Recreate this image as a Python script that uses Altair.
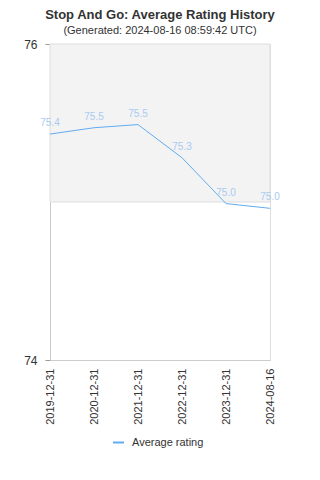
import altair as alt
import pandas as pd

dates = ["2019-12-31", "2020-12-31", "2021-12-31", "2022-12-31", "2023-12-31", "2024-08-16"]
ratings = [75.43, 75.47, 75.49, 75.28, 74.99, 74.96]
series_name = "Average rating"
band_low = [75]
band_high = [76]

df = pd.DataFrame({"date": dates, "rating": ratings, "series": [series_name] * len(dates)})
band = pd.DataFrame({"lo": band_low, "hi": band_high})

W, H = 220, 316
FONT = "Liberation Sans"
LINE = "#62acf0"
LABEL = "#a9cbf2"

x_enc = alt.X("date:O", sort=dates, scale=alt.Scale(type="point", padding=0),
              axis=alt.Axis(title=None, labelAngle=-90, ticks=False, labelPadding=8,
                            labelFont=FONT, labelFontSize=11, labelColor="#333",
                            domainColor="#ccc", grid=False))
y_scale = alt.Scale(domain=[74, 76], nice=False)

band_layer = alt.Chart(band).mark_rect(color="#f3f3f3", stroke="#dddddd", strokeWidth=1).encode(
    x=alt.value(0), x2=alt.value(W),
    y=alt.Y("lo:Q", scale=y_scale,
            axis=alt.Axis(title=None, values=[74, 75, 76], format="d", tickSize=5, tickColor="#999",
                          labelPadding=8, labelFont=FONT, labelFontSize=12, labelColor="#333",
                          domainColor="#ccc", grid=True, gridColor="#dddddd")),
    y2="hi:Q",
)

line = alt.Chart(df).mark_line(strokeWidth=1).encode(
    x=x_enc,
    y=alt.Y("rating:Q", scale=y_scale),
    color=alt.Color("series:N", scale=alt.Scale(range=[LINE]),
                    legend=alt.Legend(title=None, orient="none", legendX=62, legendY=392,
                                      symbolType="stroke", symbolStrokeWidth=2, symbolSize=120,
                                      labelOffset=7,
                                      labelFont=FONT, labelFontSize=11, labelColor="#333")),
)

labels = alt.Chart(df).mark_text(font=FONT, fontSize=10, color=LABEL, baseline="bottom", dy=-6).encode(
    x=x_enc,
    y=alt.Y("rating:Q", scale=y_scale),
    text=alt.Text("rating:Q", format=".1f"),
)

chart = alt.layer(band_layer, line, labels).properties(
    width=W, height=H,
    autosize=alt.AutoSizeParams(type="none"),
    padding={"left": 42, "top": 36, "right": 38, "bottom": 100},
    title=alt.TitleParams(text="Stop And Go: Average Rating History",
                          subtitle="(Generated: 2024-08-16 08:59:42 UTC)",
                          font=FONT, fontSize=13, fontWeight="bold", color="#333",
                          subtitleFont=FONT, subtitleFontSize=11, subtitleColor="#333",
                          anchor="middle", offset=2, subtitlePadding=3),
).configure_view(stroke="#dddddd")

chart.save("out.html", embed_options={"renderer": "svg", "actions": False})
